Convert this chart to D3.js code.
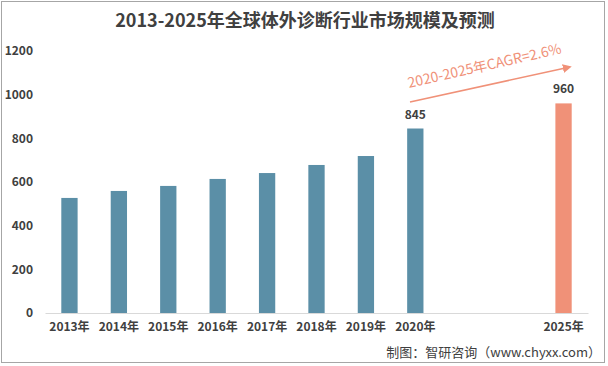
<!DOCTYPE html>
<html>
<head>
<meta charset="utf-8">
<script src="https://cdn.jsdelivr.net/npm/d3@7"></script>
<style>
  body { margin: 0; background: #fff; }
  svg text { font-family: "Noto Sans CJK SC", "Noto Sans", sans-serif; }
</style>
</head>
<body>
<svg id="chart" width="608" height="366"></svg>
<script>
// chart data
const years = ['2013年', '2014年', '2015年', '2016年', '2017年', '2018年', '2019年', '2020年', 'gap1', 'gap2', '2025年'];
const values = [527, 559, 582, 614, 641, 678, 719, 845, null, null, 960];
const labelled = ['2020年', '2025年'];
const yTicks = [0, 200, 400, 600, 800, 1000, 1200];
const forecastYear = '2025年';
const title = '2013-2025年全球体外诊断行业市场规模及预测';
const cagrText = '2020-2025年CAGR=2.6%';
const sourceText = '制图：智研咨询（www.chyxx.com）';

const width = 608;
const height = 366;
const plotLeft = 45;
const plotRight = 588;
const plotTop = 51;
const plotBottom = 313;

const svg = d3.select('#chart');
svg.selectAll('*').remove();

svg.append('rect')
  .attr('x', 1.5).attr('y', 1.5)
  .attr('width', width - 5).attr('height', height - 5)
  .attr('fill', '#fff')
  .attr('stroke', '#a6a6a6');

svg.append('text')
  .attr('x', 305).attr('y', 27)
  .attr('text-anchor', 'middle')
  .attr('fill', '#404040')
  .style('font-size', '18px')
  .style('font-weight', 'bold')
  .text(title);

const data = years.map((y, i) => ({ year: y, value: values[i] }));

const xScale = d3.scaleBand().domain(years).range([plotLeft, plotRight]).paddingInner(0.67).paddingOuter(0.33);
const yScale = d3.scaleLinear().domain([0, 1200]).range([plotBottom, plotTop]);

// y axis, labels only
const yAxis = d3.axisLeft(yScale).tickValues(yTicks).tickFormat(d3.format('d')).tickSize(0).tickPadding(0);
const gy = svg.append('g')
  .attr('transform', `translate(33,0)`)
  .call(yAxis);
gy.select('.domain').remove();
gy.selectAll('text')
  .attr('fill', '#404040')
  .style('font-size', '12px')
  .style('font-weight', 'bold');

// x axis
const xAxis = d3.axisBottom(xScale).tickSize(0).tickPadding(9)
  .tickFormat(d => d.startsWith('gap') ? '' : d);
const gx = svg.append('g')
  .attr('transform', `translate(0,${plotBottom})`)
  .call(xAxis);
gx.select('.domain').attr('stroke', '#d9d9d9');
gx.selectAll('text')
  .attr('fill', '#404040')
  .style('font-size', '12px')
  .style('font-weight', 'bold');

const bars = data.filter(d => d.value !== null);
svg.selectAll('rect.bar').data(bars).enter().append('rect')
  .attr('class', 'bar')
  .attr('x', d => xScale(d.year))
  .attr('y', d => yScale(d.value))
  .attr('width', xScale.bandwidth())
  .attr('height', d => yScale(0) - yScale(d.value))
  .attr('fill', d => d.year === forecastYear ? '#f09178' : '#5b8fa7');

svg.selectAll('text.val').data(bars.filter(d => labelled.includes(d.year))).enter().append('text')
  .attr('class', 'val')
  .attr('x', d => xScale(d.year) + xScale.bandwidth() / 2)
  .attr('y', d => yScale(d.value) - 10)
  .attr('text-anchor', 'middle')
  .attr('fill', '#404040')
  .style('font-size', '12px')
  .style('font-weight', 'bold')
  .text(d => d.value);

// CAGR arrow
svg.append('defs').append('marker')
  .attr('id', 'arrow')
  .attr('viewBox', '0 0 10 10')
  .attr('refX', 8).attr('refY', 5)
  .attr('markerWidth', 6).attr('markerHeight', 6)
  .attr('orient', 'auto')
  .append('path')
  .attr('d', 'M0,0 L10,5 L0,10 z')
  .attr('fill', '#f09178');

svg.append('line')
  .attr('x1', 410).attr('y1', 102)
  .attr('x2', 570).attr('y2', 67)
  .attr('stroke', '#f09178')
  .attr('stroke-width', 1.5)
  .attr('marker-end', 'url(#arrow)');

svg.append('text')
  .attr('transform', 'translate(409,88) rotate(-12.8)')
  .attr('fill', '#f09178')
  .style('font-size', '14px')
  .text(cagrText);

svg.append('text')
  .attr('x', 601).attr('y', 357)
  .attr('text-anchor', 'end')
  .attr('fill', '#404040')
  .style('font-size', '13px')
  .text(sourceText);
</script>
</body>
</html>
